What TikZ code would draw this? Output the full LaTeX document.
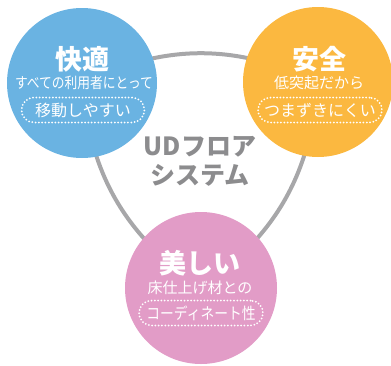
\documentclass[tikz,border=0pt]{standalone}
\usepackage{fontspec}
\setmainfont{Noto Sans CJK JP}
\usetikzlibrary{backgrounds}
\definecolor{cblue}{HTML}{6AB3E2}
\definecolor{corange}{HTML}{FBB840}
\definecolor{cpink}{HTML}{E29CC7}
\definecolor{clink}{HTML}{A7A7A9}
\definecolor{ctext}{HTML}{8C8C8E}
\begin{document}
\begin{tikzpicture}[x=1pt,y=-1pt,
  circ/.style={circle, minimum size=#1, inner sep=0pt, draw=none},
  link/.style={draw=clink, line width=4pt},
  title/.style={text=white, font=\bfseries\fontsize{27}{27}\selectfont, inner sep=0pt},
  sub/.style={text=white, font=\fontsize{15}{15}\selectfont, inner sep=0pt},
  pill/.style={draw=white, rounded corners=12.5pt, minimum width=123pt, minimum height=25pt,
    line width=2pt, dash pattern=on 0pt off 3.3pt, line cap=round, text=white,
    font=\fontsize{16}{16}\selectfont, inner sep=0pt},
  ud/.style={text=ctext, font=\bfseries\fontsize{25}{25}\selectfont, inner sep=0pt}]
\useasboundingbox (0,0) rectangle (391,365);
\node[circ=150pt, fill=cblue] (b) at (82,83) {};
\node[circ=150pt, fill=corange] (o) at (318,82) {};
\node[circ=152pt, fill=cpink] (p) at (201,288) {};
\begin{scope}[on background layer]
\draw[link] (b.center) to[bend left=25] (o.center);
\draw[link] (o.center) to[bend left=25] (p.center);
\draw[link] (p.center) to[bend left=25] (b.center);
\end{scope}
\node[ud] (ud1) at (200,147) {UDフロア};
\node[ud] (ud2) at (200,175) {システム};
% blue
\node[title] (bt) at (82,59) {快適};
\node[sub] (bs) at (84,83) {\scalebox{0.85}[1]{すべての利用者にとって}};
\node[pill] (bp) at (83,110) {移動しやすい};
% orange
\node[title] (ot) at (319,59) {安全};
\node[sub] (os) at (319,83) {低突起だから};
\node[pill, minimum width=124pt] (op) at (320,110) {つまずきにくい};
% pink
\node[title] (pt) at (200,263) {美しい};
\node[sub] (ps) at (200,288) {床仕上げ材との};
\node[pill, minimum width=124pt] (pp) at (201,313) {\scalebox{0.86}[1]{コーディネート性}};
\end{tikzpicture}
\end{document}
